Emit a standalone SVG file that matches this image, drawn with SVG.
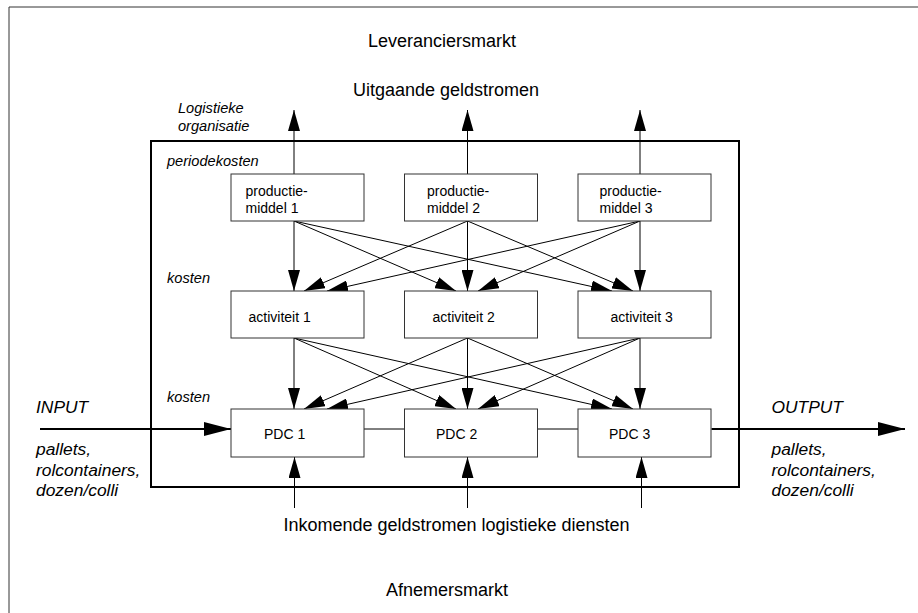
<svg xmlns="http://www.w3.org/2000/svg" width="918" height="613" viewBox="0 0 918 613">
  <style>
    text { font-family: "Liberation Sans", Arial, sans-serif; fill: #000; }
    .big { font-size: 18px; text-anchor: middle; }
    .box { fill: #fff; stroke: #333; stroke-width: 1; }
    .lbl { font-size: 14px; }
    .it { font-size: 14.6px; font-style: italic; }
    .side { font-size: 17.4px; font-style: italic; }
    .conn { stroke: #000; stroke-width: 1; fill: none; }
    .flow { stroke: #000; stroke-width: 2; fill: none; }
  </style>
  <defs>
    <marker id="ah" markerUnits="userSpaceOnUse" markerWidth="21" markerHeight="12" refX="21" refY="6" orient="auto">
      <path d="M0,0 L21,6 L0,12 Z" fill="#000"/>
    </marker>
    <marker id="ahBig" markerUnits="userSpaceOnUse" markerWidth="27" markerHeight="14" refX="27" refY="7" orient="auto">
      <path d="M0,0 L27,7 L0,14 Z" fill="#000"/>
    </marker>
  </defs>

  <rect width="918" height="613" fill="#fff"/>

  <!-- market frame -->
  <path d="M9,613 V7 H918" fill="none" stroke="#333" stroke-width="1"/>

  <!-- logistics organisation boundary -->
  <g id="organisatie">
    <rect x="151" y="141" width="588" height="346" fill="none" stroke="#000" stroke-width="2"/>
    <text class="it" x="178" y="113">Logistieke</text>
    <text class="it" x="178" y="131">organisatie</text>
    <text class="it" x="167" y="166">periodekosten</text>
    <text class="it" x="167" y="283">kosten</text>
    <text class="it" x="167" y="402">kosten</text>
  </g>

  <g id="markets">
    <text class="big" x="442" y="47">Leveranciersmarkt</text>
    <text class="big" x="446" y="96">Uitgaande geldstromen</text>
    <text class="big" x="456.5" y="531">Inkomende geldstromen logistieke diensten</text>
    <text class="big" x="447" y="596">Afnemersmarkt</text>
  </g>

  <g id="input">
    <text class="side" x="36" y="413">INPUT</text>
    <text class="side" x="36" y="455">pallets,</text>
    <text class="side" x="36" y="475.5">rolcontainers,</text>
    <text class="side" x="36" y="496">dozen/colli</text>
  </g>
  <g id="output">
    <text class="side" x="771.5" y="413">OUTPUT</text>
    <text class="side" x="771.5" y="455">pallets,</text>
    <text class="side" x="771.5" y="475.5">rolcontainers,</text>
    <text class="side" x="771.5" y="496">dozen/colli</text>
  </g>

  <!-- connectors -->
  <g id="connectors">
    <!-- outgoing money flows -->
    <line class="conn" x1="294" y1="174" x2="294" y2="110" marker-end="url(#ah)"/>
    <line class="conn" x1="467.5" y1="174" x2="467.5" y2="110" marker-end="url(#ah)"/>
    <line class="conn" x1="640" y1="174" x2="640" y2="110" marker-end="url(#ah)"/>

    <!-- resources to activities -->
    <line class="conn" x1="294" y1="221" x2="294" y2="291" marker-end="url(#ah)"/>
    <line class="conn" x1="294" y1="221" x2="456" y2="291" marker-end="url(#ah)"/>
    <line class="conn" x1="294" y1="221" x2="612" y2="291" marker-end="url(#ah)"/>
    <line class="conn" x1="467.5" y1="221" x2="304" y2="291" marker-end="url(#ah)"/>
    <line class="conn" x1="467.5" y1="221" x2="467.5" y2="291" marker-end="url(#ah)"/>
    <line class="conn" x1="467.5" y1="221" x2="633" y2="291" marker-end="url(#ah)"/>
    <line class="conn" x1="640" y1="221" x2="327" y2="291" marker-end="url(#ah)"/>
    <line class="conn" x1="640" y1="221" x2="478" y2="291" marker-end="url(#ah)"/>
    <line class="conn" x1="640" y1="221" x2="640" y2="291" marker-end="url(#ah)"/>

    <!-- activities to PDCs -->
    <line class="conn" x1="294" y1="338" x2="294" y2="409" marker-end="url(#ah)"/>
    <line class="conn" x1="294" y1="338" x2="456" y2="409" marker-end="url(#ah)"/>
    <line class="conn" x1="294" y1="338" x2="612" y2="409" marker-end="url(#ah)"/>
    <line class="conn" x1="467.5" y1="338" x2="304" y2="409" marker-end="url(#ah)"/>
    <line class="conn" x1="467.5" y1="338" x2="467.5" y2="409" marker-end="url(#ah)"/>
    <line class="conn" x1="467.5" y1="338" x2="633" y2="409" marker-end="url(#ah)"/>
    <line class="conn" x1="640" y1="338" x2="327" y2="409" marker-end="url(#ah)"/>
    <line class="conn" x1="640" y1="338" x2="478" y2="409" marker-end="url(#ah)"/>
    <line class="conn" x1="640" y1="338" x2="640" y2="409" marker-end="url(#ah)"/>

    <!-- links between PDCs -->
    <line class="conn" x1="364" y1="429" x2="404.5" y2="429"/>
    <line class="conn" x1="537.5" y1="429" x2="578" y2="429"/>

    <!-- incoming money flows -->
    <line class="conn" x1="294.5" y1="508" x2="294.5" y2="457" marker-end="url(#ah)"/>
    <line class="conn" x1="467.5" y1="508" x2="467.5" y2="457" marker-end="url(#ah)"/>
    <line class="conn" x1="641.5" y1="508" x2="641.5" y2="457" marker-end="url(#ah)"/>

    <!-- goods flow -->
    <line class="flow" x1="40" y1="429" x2="231" y2="429" marker-end="url(#ahBig)"/>
    <line class="flow" x1="711.5" y1="429" x2="905" y2="429" marker-end="url(#ahBig)"/>
  </g>

  <!-- resources -->
  <g id="productiemiddel1">
    <rect class="box" x="231" y="174" width="133" height="47"/>
    <text class="lbl" x="245.5" y="196">productie-</text>
    <text class="lbl" x="245.5" y="213">middel 1</text>
  </g>
  <g id="productiemiddel2">
    <rect class="box" x="404.5" y="174" width="133" height="47"/>
    <text class="lbl" x="427" y="196">productie-</text>
    <text class="lbl" x="427" y="213">middel 2</text>
  </g>
  <g id="productiemiddel3">
    <rect class="box" x="578" y="174" width="133" height="47"/>
    <text class="lbl" x="599.5" y="196">productie-</text>
    <text class="lbl" x="599.5" y="213">middel 3</text>
  </g>

  <!-- activities -->
  <g id="activiteit1">
    <rect class="box" x="231" y="291" width="133" height="47"/>
    <text class="lbl" x="248.5" y="322">activiteit 1</text>
  </g>
  <g id="activiteit2">
    <rect class="box" x="404.5" y="291" width="133" height="47"/>
    <text class="lbl" x="432.5" y="322">activiteit 2</text>
  </g>
  <g id="activiteit3">
    <rect class="box" x="578" y="291" width="133" height="47"/>
    <text class="lbl" x="610.5" y="322">activiteit 3</text>
  </g>

  <!-- distribution centres -->
  <g id="pdc1">
    <rect class="box" x="231" y="409" width="133" height="48"/>
    <text class="lbl" x="264" y="439">PDC 1</text>
  </g>
  <g id="pdc2">
    <rect class="box" x="404.5" y="409" width="133" height="48"/>
    <text class="lbl" x="436" y="439">PDC 2</text>
  </g>
  <g id="pdc3">
    <rect class="box" x="578" y="409" width="133" height="48"/>
    <text class="lbl" x="609" y="439">PDC 3</text>
  </g>
</svg>
